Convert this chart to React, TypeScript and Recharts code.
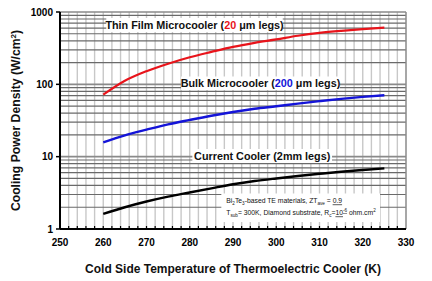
import { CartesianGrid, Line, LineChart, ReferenceArea, ReferenceLine, XAxis, YAxis } from "recharts";

const TEMPS = [260, 265, 270, 275, 280, 285, 290, 295, 300, 305, 310, 315, 320, 325];
const THIN_FILM = [72, 112, 152, 193, 237, 281, 330, 375, 418, 470, 515, 550, 580, 608];
const BULK = [15.8, 19.7, 23.6, 28, 32.2, 36.8, 41.5, 46, 49.8, 54.2, 58.6, 63, 67, 70.7];
const CURRENT = [1.62, 2.0, 2.4, 2.8, 3.2, 3.65, 4.15, 4.6, 5.0, 5.4, 5.8, 6.2, 6.55, 6.9];

const X_TICKS = Array.from({ length: 41 }, (_, i) => 250 + i * 2);
const Y_TICKS = [1, 10, 100, 1000];
const Y_MINOR = [2, 3, 4, 5, 6, 7, 8, 9, 20, 30, 40, 50, 60, 70, 80, 90, 200, 300, 400, 500, 600, 700, 800, 900];
const X_GRID = X_TICKS.filter((t) => t > 250 && t < 330);

const FONT = "'Liberation Sans', Arial, sans-serif";
const RED = "#e8141b";
const BLUE = "#1414d8";

const data = TEMPS.map((t, i) => ({ t, thin: THIN_FILM[i], bulk: BULK[i], current: CURRENT[i] }));

function XTick({ x, y, payload }: any) {
  const v = payload.value;
  const axisY = y - 10;
  return (
    <g>
      {v > 250 && v < 330 && <line x1={x} x2={x} y1={axisY} y2={axisY - 3} stroke="#000" strokeWidth={1.2} />}
      {v % 10 === 0 && (
        <text x={x} y={y} dy="0.71em" textAnchor="middle" fontSize={10} fontWeight={700} fill="#000" fontFamily={FONT}>
          {v}
        </text>
      )}
    </g>
  );
}

/** Curve caption centred in its white box; parts can be coloured. */
function caption(parts: { s: string; c?: string }[]) {
  return ({ viewBox }: any) => (
    <text
      x={viewBox.x + viewBox.width / 2}
      y={viewBox.y + viewBox.height / 2}
      dy="0.35em"
      textAnchor="middle"
      fontSize={10.8}
      fontWeight={700}
      fontFamily={FONT}
      fill="#111"
    >
      {parts.map((p, i) => (
        <tspan key={i} fill={p.c ?? "#111"}>
          {p.s}
        </tspan>
      ))}
    </text>
  );
}

function Note({ viewBox }: any) {
  const x = viewBox.x + 5;
  const y = viewBox.y;
  return (
    <text fontSize={6.8} fontFamily={FONT} fill="#111">
      <tspan x={x} y={y + 10}>Bi</tspan>
      <tspan fontSize={4.6} dy={1.5}>2</tspan>
      <tspan dy={-1.5}>Te</tspan>
      <tspan fontSize={4.6} dy={1.5}>3</tspan>
      <tspan dy={-1.5}>-based TE materials, ZT</tspan>
      <tspan fontSize={4.6} dy={1.5}>ave</tspan>
      <tspan dy={-1.5}> = </tspan>
      <tspan textDecoration="underline">0.9</tspan>
      <tspan x={x} y={y + 22}>T</tspan>
      <tspan fontSize={4.6} dy={1.5}>sub</tspan>
      <tspan dy={-1.5}>= 300K, Diamond substrate, R</tspan>
      <tspan fontSize={4.6} dy={1.5}>c</tspan>
      <tspan dy={-1.5}>=</tspan>
      <tspan textDecoration="underline">10</tspan>
      <tspan fontSize={4.6} dy={-3} textDecoration="underline">-6</tspan>
      <tspan dy={3}> ohm.cm</tspan>
      <tspan fontSize={4.6} dy={-3}>2</tspan>
    </text>
  );
}

function YTitle({ viewBox }: any) {
  const cx = viewBox.x + 16;
  const cy = viewBox.y + viewBox.height / 2;
  return (
    <text
      x={cx}
      y={cy}
      transform={`rotate(-90 ${cx} ${cy})`}
      textAnchor="middle"
      dy="0.35em"
      fontSize={12.2}
      fontWeight={700}
      fontFamily={FONT}
      fill="#111"
    >
      Cooling Power Density (W/cm
      <tspan fontSize={8} dy={-4}>2</tspan>
      <tspan dy={4}>)</tspan>
    </text>
  );
}

export default function App() {
  return (
    <div style={{ position: "absolute", left: 0, top: 0, background: "#fff" }}>
      <LineChart width={432} height={281} data={data} margin={{ top: 12, right: 26, bottom: 0, left: 0 }}>
        <CartesianGrid horizontal={false} verticalValues={X_GRID} stroke="#c8c8c8" strokeWidth={1.4} />
        <CartesianGrid vertical={false} horizontalValues={Y_MINOR} stroke="#6a6a6a" strokeWidth={1.2} />
        <CartesianGrid vertical={false} horizontalValues={[10, 100]} stroke="#8a8a8a" strokeWidth={1.8} />
        <ReferenceLine y={1000} stroke="#8a8a8a" strokeWidth={1.5} />
        <ReferenceLine x={330} stroke="#8a8a8a" strokeWidth={1.5} />

        <ReferenceArea x1={260.7} x2={301.5} y1={531} y2={829} fill="#fff" fillOpacity={1} stroke="none"
          label={caption([{ s: "Thin Film Microcooler (" }, { s: "20", c: RED }, { s: " μm legs)" }])} />
        <ReferenceArea x1={278} x2={314.7} y1={83.7} y2={128.6} fill="#fff" fillOpacity={1} stroke="none"
          label={caption([{ s: "Bulk Microcooler (" }, { s: "200", c: BLUE }, { s: " μm legs)" }])} />
        <ReferenceArea x1={280.6} x2={312.9} y1={8.18} y2={12.8} fill="#fff" fillOpacity={1} stroke="none"
          label={caption([{ s: "Current Cooler (2mm legs)" }])} />
        <ReferenceArea x1={287.3} x2={324} y1={1.25} y2={3.1} fill="#fff" fillOpacity={1} stroke="none" label={<Note />} />

        <XAxis
          dataKey="t"
          type="number"
          domain={[250, 330]}
          ticks={X_TICKS}
          interval={0}
          height={52}
          tickLine={false}
          tickSize={0}
          tickMargin={10}
          axisLine={{ stroke: "#000", strokeWidth: 2 }}
          tick={<XTick />}
          label={{
            value: "Cold Side Temperature of Thermoelectric Cooler (K)",
            position: "insideBottom",
            offset: 8,
            fontSize: 12,
            fontWeight: 700,
            fontFamily: FONT,
            fill: "#111",
          }}
        />
        <YAxis
          scale="log"
          domain={[1, 1000]}
          ticks={Y_TICKS}
          interval={0}
          allowDataOverflow
          width={60}
          tickSize={4}
          tickMargin={3}
          tickLine={{ stroke: "#000", strokeWidth: 1.5 }}
          axisLine={{ stroke: "#000", strokeWidth: 2 }}
          tick={{ fontSize: 10, fontWeight: 700, fill: "#000", fontFamily: FONT }}
          label={<YTitle />}
        />

        <Line dataKey="thin" type="monotone" stroke={RED} strokeWidth={2.2} dot={false} isAnimationActive={false} />
        <Line dataKey="bulk" type="monotone" stroke={BLUE} strokeWidth={2.4} dot={false} isAnimationActive={false} />
        <Line dataKey="current" type="monotone" stroke="#000" strokeWidth={2.4} dot={false} isAnimationActive={false} />
      </LineChart>
    </div>
  );
}
